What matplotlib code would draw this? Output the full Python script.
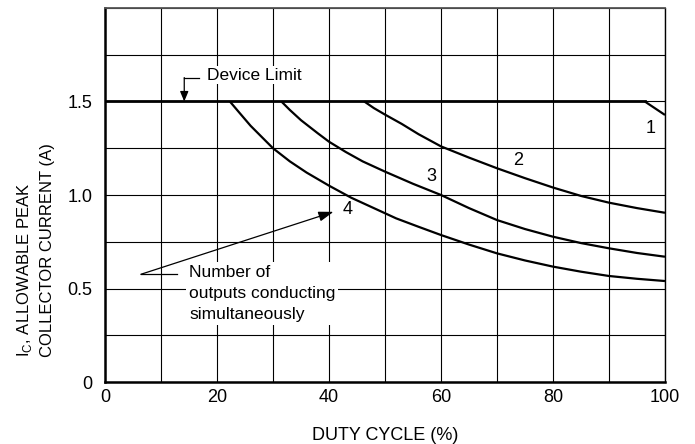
import numpy as np
import matplotlib
matplotlib.use("Agg")
import matplotlib.pyplot as plt

plt.rcParams["font.family"] = ["Liberation Sans", "DejaVu Sans"]

# duty cycle (%) vs allowable peak collector current (A)
device_limit = 1.5
duty_1 = [96.4, 100]
ic_1 = [1.5, 1.428]
duty_2 = [46.3, 48, 50, 53, 56, 60, 65, 70, 75, 80, 85, 90, 95, 100]
ic_2 = [1.5, 1.465, 1.43, 1.38, 1.325, 1.26, 1.20, 1.143, 1.09, 1.04, 0.995, 0.959, 0.93, 0.905]
duty_3 = [31.5, 33, 35, 38, 40, 43, 46, 50, 55, 60, 65, 70, 75, 80, 85, 90, 95, 100]
ic_3 = [1.5, 1.455, 1.40, 1.33, 1.285, 1.23, 1.18, 1.125, 1.06, 1.0, 0.93, 0.866, 0.818, 0.777, 0.743, 0.715, 0.69, 0.67]
duty_4 = [22.3, 24, 26, 28, 30, 33, 36, 40, 44, 48, 52, 56, 60, 65, 70, 75, 80, 85, 90, 95, 100]
ic_4 = [1.5, 1.44, 1.37, 1.31, 1.25, 1.18, 1.12, 1.05, 0.985, 0.93, 0.875, 0.83, 0.786, 0.735, 0.688, 0.65, 0.617, 0.59, 0.567, 0.552, 0.54]

curves = [(duty_1, ic_1), (duty_2, ic_2), (duty_3, ic_3), (duty_4, ic_4)]
curve_labels = ["1", "2", "3", "4"]
label_pos = [(97.5, 1.357), (73.7, 1.187), (58.2, 1.10), (43.3, 0.92)]

x_ticks = [0, 20, 40, 60, 80, 100]
y_ticks = [0, 0.5, 1.0, 1.5]

fig = plt.figure(figsize=(6.95, 4.44), dpi=100)
ax = fig.add_axes([0.1511, 0.1396, 0.8057, 0.8424])

ax.set_xlim(0, 100)
ax.set_ylim(0, 2.0)
ax.set_xticks(np.arange(0, 101, 10))
ax.set_yticks(np.arange(0, 2.01, 0.25))
ax.grid(True, color="black", linewidth=0.8)
ax.set_axisbelow(True)
ax.set_xticklabels([str(v) if v in x_ticks else "" for v in range(0, 101, 10)])
ax.set_yticklabels(["0" if v == 0 else (f"{v:.1f}" if v in y_ticks else "")
                    for v in np.arange(0, 2.01, 0.25)])
ax.tick_params(length=0, labelsize=13)
ax.tick_params(axis="y", pad=9)
ax.tick_params(axis="x", pad=5)

for side in ["left", "bottom"]:
    ax.spines[side].set_linewidth(1.8)
ax.spines["top"].set_linewidth(1.3)
ax.spines["top"].set_color("#555555")
ax.spines["right"].set_linewidth(1.0)

ax.plot([0, duty_1[0]], [device_limit, device_limit], color="black", lw=2.0, zorder=3)
for (dx, dy) in curves:
    ax.plot(dx, dy, color="black", lw=1.6, zorder=3, solid_capstyle="butt")

for lab, (lx, ly) in zip(curve_labels, label_pos):
    ax.text(lx, ly, lab, fontsize=13, ha="center", va="center", zorder=4)

# Device Limit callout
ax.text(18.2, 1.64, "Device Limit", fontsize=12.5, ha="left", va="center", zorder=4,
        bbox=dict(facecolor="white", edgecolor="none", pad=1))
ax.plot([14.15, 16.7], [1.624, 1.624], color="black", lw=0.9, zorder=4)
ax.annotate("", xy=(14.15, 1.5), xytext=(14.15, 1.628), zorder=4,
            arrowprops=dict(arrowstyle="-|>,head_length=0.6,head_width=0.25",
                            color="black", lw=0.9, shrinkA=0, shrinkB=0))

# Number of outputs callout
ax.text(15.0, 0.625, "Number of\noutputs conducting\nsimultaneously", fontsize=12.5,
        ha="left", va="top", linespacing=1.5, zorder=4,
        bbox=dict(facecolor="white", edgecolor="none", pad=2))
ax.plot([6.4, 12.8], [0.576, 0.576], color="black", lw=0.9, zorder=4)
ax.annotate("", xy=(40.8, 0.91), xytext=(6.4, 0.576), zorder=4,
            arrowprops=dict(arrowstyle="-|>,head_length=0.9,head_width=0.3",
                            color="black", lw=0.9, shrinkA=0, shrinkB=0))

ax.set_xlabel("DUTY CYCLE (%)", fontsize=13, labelpad=15)
fig.text(0.035, 0.195, "I$_\\mathregular{C}$, ALLOWABLE PEAK", rotation=90,
         ha="center", va="bottom", fontsize=12)
fig.text(0.069, 0.195, "COLLECTOR CURRENT (A)", rotation=90,
         ha="center", va="bottom", fontsize=12)

fig.savefig("out.png", dpi=100)
